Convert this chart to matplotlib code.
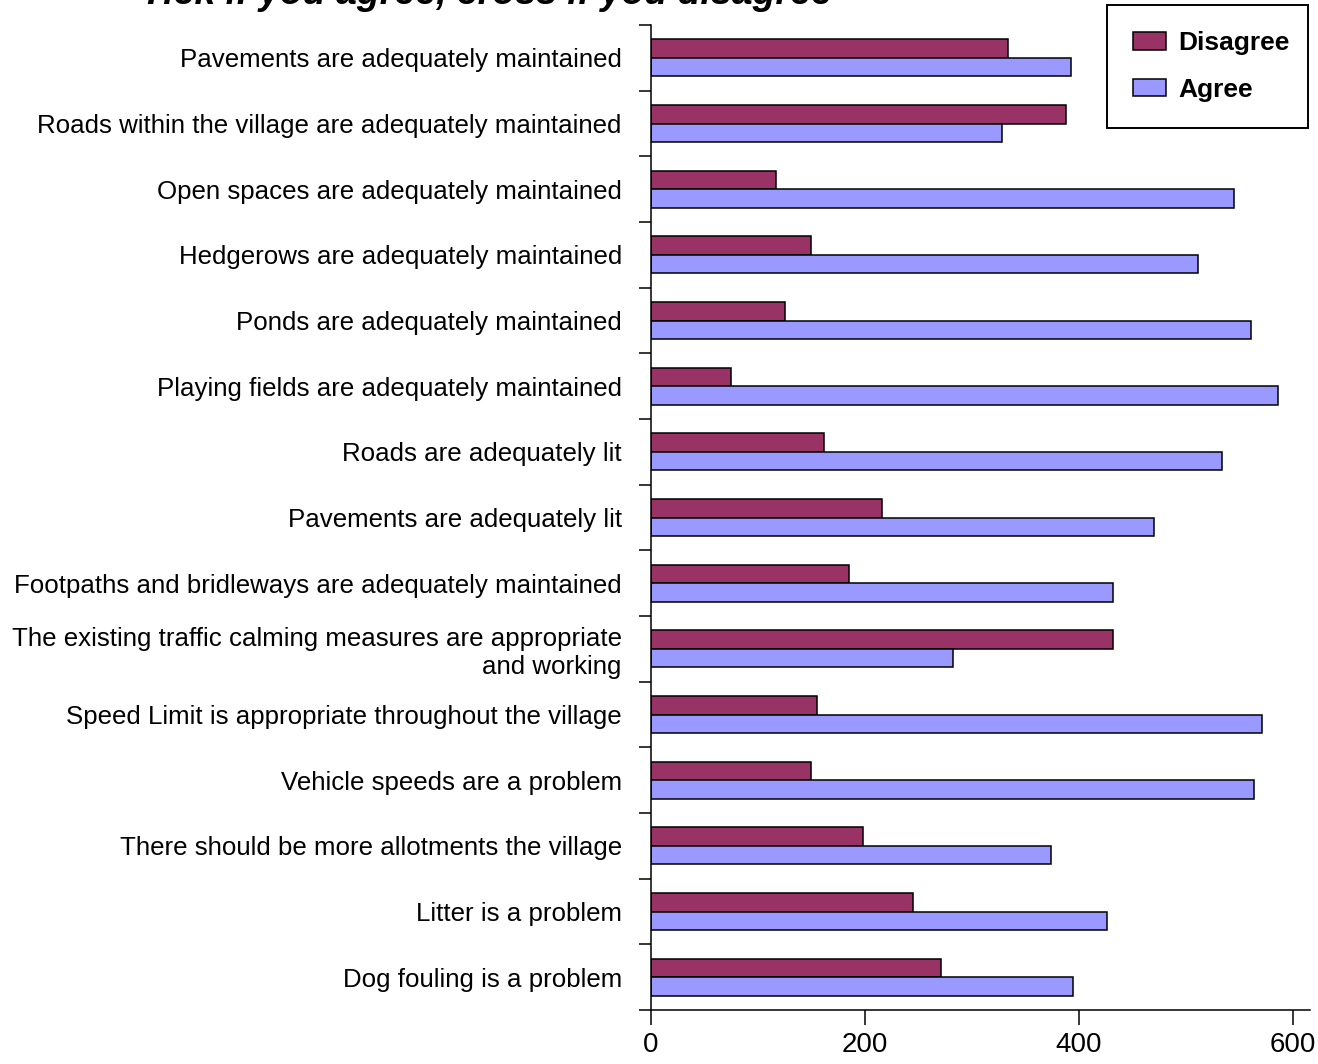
import numpy as np
import matplotlib.pyplot as plt

plt.rcParams['font.family'] = ['Liberation Sans', 'DejaVu Sans']

# data, top to bottom as in the chart
categories = [
    "Pavements are adequately maintained",
    "Roads within the village are adequately maintained",
    "Open spaces are adequately maintained",
    "Hedgerows are adequately maintained",
    "Ponds are adequately maintained",
    "Playing fields are adequately maintained",
    "Roads are adequately lit",
    "Pavements are adequately lit",
    "Footpaths and bridleways are adequately maintained",
    "The existing traffic calming measures are appropriate\nand working",
    "Speed Limit is appropriate throughout the village",
    "Vehicle speeds are a problem",
    "There should be more allotments the village",
    "Litter is a problem",
    "Dog fouling is a problem",
]
disagree = [334, 388, 117, 150, 125, 75, 162, 216, 185, 432, 155, 150, 198, 245, 271]
agree = [393, 328, 545, 511, 561, 586, 534, 470, 432, 282, 571, 564, 374, 426, 394]
x_ticks = [0, 200, 400, 600]

W, H = 1318, 1064
fig = plt.figure(figsize=(W / 100, H / 100), dpi=100)
ax = fig.add_axes([651 / W, (H - 1010) / H, (1310 - 651) / W, 985 / H])

y = np.arange(len(categories))
bh = 0.28
ax.barh(y - bh / 2, disagree, height=bh, color='#993366', edgecolor='black',
        linewidth=1.1, label='Disagree')
ax.barh(y + bh / 2, agree, height=bh, color='#9999FF', edgecolor='black',
        linewidth=1.1, label='Agree')

ax.set_ylim(len(categories) - 0.5, -0.5)
ax.set_xlim(0, 616)

# labels at centres, tick marks at the category boundaries
ax.set_yticks(y)
ax.set_yticklabels(categories, fontsize=18.6, ha='right')
ax.tick_params(axis='y', which='major', length=0, pad=21)
ax.set_yticks(np.arange(len(categories) + 1) - 0.5, minor=True)
ax.tick_params(axis='y', which='minor', length=8.5, width=1.1, direction='out')

ax.set_xticks(x_ticks)
ax.set_xticklabels([str(t) for t in x_ticks], fontsize=20)
ax.tick_params(axis='x', length=11, width=1.1, direction='out', pad=5)

for s in ['top', 'right']:
    ax.spines[s].set_visible(False)
for s in ['left', 'bottom']:
    ax.spines[s].set_linewidth(1.1)

for lab in ax.get_yticklabels():
    lab.set_multialignment('right')

leg = ax.legend(loc='upper left', bbox_to_anchor=(1107 / W, 1 - 143 / H, 201 / W, 138 / H),
                bbox_transform=fig.transFigure, mode='expand', frameon=True,
                fancybox=False, edgecolor='black', framealpha=1,
                prop={'weight': 'bold', 'size': 19}, handlelength=1.25,
                handleheight=0.65, handletextpad=0.45, labelspacing=0.85,
                borderpad=1.0, borderaxespad=0)
leg.get_frame().set_linewidth(1.4)

fig.text(486 / W, 1 - 4 / H, "Tick if you agree, cross if you disagree",
         ha='center', va='baseline', fontsize=27, fontweight='bold', style='italic')

fig.savefig('out.png', dpi=100)
